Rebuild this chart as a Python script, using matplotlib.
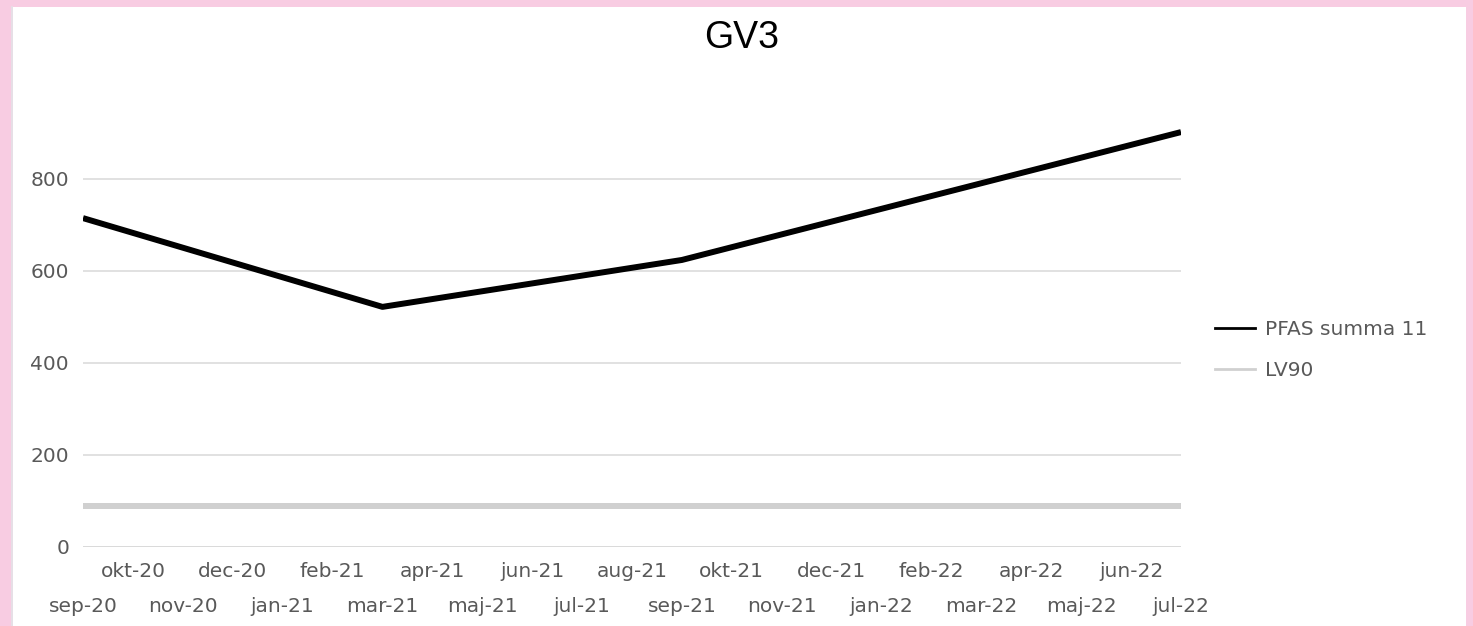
import numpy as np
import matplotlib.pyplot as plt
from matplotlib.patches import Rectangle
from matplotlib.lines import Line2D

# monthly categories, sep-20 .. jul-22
months = ['sep-20', 'okt-20', 'nov-20', 'dec-20', 'jan-21', 'feb-21', 'mar-21',
          'apr-21', 'maj-21', 'jun-21', 'jul-21', 'aug-21', 'sep-21', 'okt-21',
          'nov-21', 'dec-21', 'jan-22', 'feb-22', 'mar-22', 'apr-22', 'maj-22',
          'jun-22', 'jul-22']

# PFAS summa 11 - only sampled in a few months (gaps are connected)
pfas = [715, None, None, None, None, None, 522,
        None, None, None, None, None, 624, None,
        None, None, None, None, None, None, None,
        None, 902]

# LV90 limit
lv90 = [90, 90, 90, 90, 90, 90, 90, 90, 90, 90, 90, 90,
        90, 90, 90, 90, 90, 90, 90, 90, 90, 90, 90]

yticks = [0, 200, 400, 600, 800]

W, H = 1473, 626
fig = plt.figure(figsize=(W / 100, H / 100), dpi=100, facecolor='#F8CCE2')

# white sheet inside the pink frame
fig.patches.append(Rectangle((13 / W, 0), (1466 - 13) / W, (H - 7) / H,
                             transform=fig.transFigure, facecolor='white',
                             edgecolor='none', zorder=-5))
fig.lines.append(Line2D([12 / W, 12 / W], [0, (H - 7) / H], transform=fig.transFigure,
                        color='#E3E3E8', lw=1.2, zorder=-4))

ax = fig.add_axes([83 / W, (H - 547) / H, (1181 - 83) / W, (547 - 105.4) / H])
ax.set_facecolor('none')
ax.set_zorder(2)

x = np.arange(len(months))
p = np.array([np.nan if v is None else v for v in pfas], dtype=float)
mask = ~np.isnan(p)

ax.plot(x, lv90, color='#D0D0D0', lw=4.3, solid_capstyle='butt', zorder=3)
ax.plot(x[mask], p[mask], color='black', lw=4.3, solid_capstyle='butt',
        solid_joinstyle='round', zorder=4)

ax.set_xlim(0, len(months) - 1)
ax.set_ylim(0, 960)
ax.set_yticks(yticks)
ax.yaxis.grid(True, color='#D9D9D9', lw=1.1)
ax.set_axisbelow(True)
for s in ['top', 'right', 'left', 'bottom']:
    ax.spines[s].set_visible(False)
ax.axhline(0, color='#D9D9D9', lw=1.8, zorder=2)

ax.tick_params(axis='y', length=0, pad=10, labelsize=14.5, labelcolor='#595959')

# two rows of month labels: odd months on top, even months below
ax.set_xticks(x[1::2])
ax.set_xticklabels(months[1::2])
ax.set_xticks(x[0::2], minor=True)
ax.set_xticklabels(months[0::2], minor=True)
ax.tick_params(axis='x', which='major', length=0, pad=11, labelsize=14.5,
               labelcolor='#595959')
ax.tick_params(axis='x', which='minor', length=0, pad=36, labelsize=14.5,
               labelcolor='#595959')

fig.text(742 / W, 1 - 38 / H, 'GV3', ha='center', va='center', fontsize=27,
         family='Liberation Sans', color='black')

handles = [Line2D([], [], color='black', lw=2),
           Line2D([], [], color='#D0D0D0', lw=2)]
fig.legend(handles, ['PFAS summa 11', 'LV90'], loc='center left',
           bbox_to_anchor=(1197 / W, 1 - 350 / H), frameon=False,
           fontsize=14.5, labelcolor='#595959', handlelength=2.0,
           handletextpad=0.5, labelspacing=1.12)

fig.savefig('out.png', dpi=100, facecolor=fig.get_facecolor())
